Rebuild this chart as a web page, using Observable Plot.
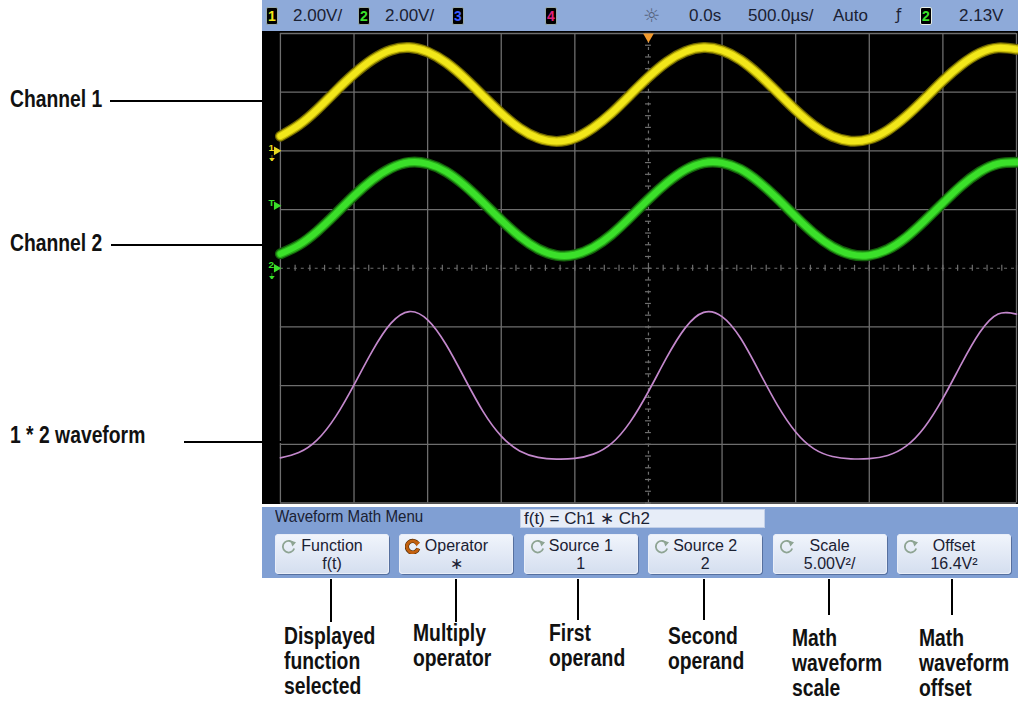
<!DOCTYPE html>
<html><head><meta charset="utf-8">
<script src="https://cdn.jsdelivr.net/npm/d3@7"></script>
<script src="https://cdn.jsdelivr.net/npm/@observablehq/plot@0.6"></script>
<style>
body{margin:0;background:#fff;}
#page{position:relative;width:1018px;height:702px;overflow:hidden;background:#fff;font-family:"Liberation Sans",Arial,sans-serif;}
.abs{position:absolute;}
#status{left:262px;top:0;width:756px;height:31px;background:#8eaad9;}
#scope{left:262px;top:31px;}
#menu{left:262px;top:507px;width:756px;height:71px;background:#809fd3;}
.st{position:absolute;top:0;line-height:31px;font-size:17px;color:#1a2133;white-space:nowrap;transform-origin:left center;}
.chbox{position:absolute;top:7px;width:10px;height:16px;background:#000;border:1px solid #9aa;border-radius:2px;font-size:14px;line-height:16px;text-align:center;font-weight:bold;font-family:"Liberation Sans",sans-serif;}
.key{position:absolute;top:27px;width:114px;height:40px;border-radius:4px;background:linear-gradient(#f1f5fc,#d4deef);box-shadow:1px 1px 0 #56709f, inset 0 0 0 1px #e9eef8;color:#1a2133;font-size:16px;}
.key .l1{position:absolute;left:0;right:0;top:3px;text-align:center;line-height:18px;}
.key .l2{position:absolute;left:0;right:0;top:21px;text-align:center;line-height:18px;}
.key svg{position:absolute;left:6px;top:4px;}
.note{position:absolute;font-weight:bold;font-size:23px;line-height:20px;color:#111;white-space:nowrap;transform:scaleX(0.84);transform-origin:left top;}
.lead{position:absolute;background:#000;}
</style></head><body><div id="page">
<div id="status" class="abs"></div>
<div id="scope" class="abs"></div>
<div id="menu" class="abs"></div>
</div>
<script>
// ---------------- data ----------------
const timeMs = [-2.5,-2.375,-2.25,-2.125,-2,-1.875,-1.75,-1.625,-1.5,-1.375,-1.25,-1.125,-1,-0.875,-0.75,-0.625,-0.5,-0.375,-0.25,-0.125,0,0.125,0.25,0.375,0.5,0.625,0.75,0.875,1,1.125,1.25,1.375,1.5,1.625,1.75,1.875,2,2.125,2.25,2.375,2.5];
const ch1Volts = [0.50,0.88,1.41,2.03,2.62,3.11,3.43,3.52,3.37,3.01,2.49,1.88,1.28,0.77,0.44,0.32,0.44,0.79,1.29,1.90,2.51,3.03,3.38,3.52,3.42,3.10,2.60,2.00,1.39,0.86,0.49,0.33,0.40,0.70,1.18,1.77,2.39,2.93,3.33,3.51,3.46];
const ch2Volts = [0.49,0.79,1.26,1.85,2.47,3.01,3.41,3.61,3.56,3.29,2.83,2.25,1.64,1.08,0.66,0.44,0.46,0.71,1.15,1.73,2.35,2.91,3.35,3.59,3.59,3.37,2.94,2.38,1.76,1.18,0.73,0.47,0.44,0.64,1.05,1.61,2.22,2.81,3.28,3.56,3.61];
const mathV2 = [0.25,0.70,1.78,3.76,6.47,9.36,11.70,12.71,12.00,9.90,7.05,4.23,2.10,0.83,0.29,0.14,0.20,0.56,1.48,3.29,5.90,8.82,11.32,12.64,12.28,10.45,7.64,4.76,2.45,1.01,0.36,0.16,0.18,0.45,1.24,2.85,5.31,8.23,10.92,12.50,12.49];

// scope settings (from the status line and softkeys)
const ch1VoltsPerDiv = 2.00, ch2VoltsPerDiv = 2.00;
const ch1GroundDiv = 2, ch2GroundDiv = 0;
const mathV2PerDiv = 5.00, mathOffsetV2 = 16.4;
const triggerLevelV = 2.13;
const gridTimesMs = [-2.5,-2,-1.5,-1,-0.5,0,0.5,1,1.5,2,2.5];
const gridDivs = [-4,-3,-2,-1,0,1,2,3,4];

// text
const statusTexts = ["2.00V/","2.00V/","0.0s","500.0µs/","Auto","2.13V"];
const menuTitle = "Waveform Math Menu";
const formulaText = "f(t) = Ch1 ∗ Ch2";
const softkeyNames = ["Function","Operator","Source 1","Source 2","Scale","Offset"];
const softkeyValues = ["f(t)","∗","1","2","5.00V²/","16.4V²"];
const sideLabels = ["Channel 1","Channel 2","1 * 2 waveform"];
const keyLabels = [["Displayed","function","selected"],["Multiply","operator"],["First","operand"],["Second","operand"],["Math","waveform","scale"],["Math","waveform","offset"]];

// ---------------- colours ----------------
const YEL = "#f2e71a", GRN = "#3be02a", BLU = "#3a5cff", MAG = "#e0207a", GRID = "#6e6e6e";

// ---------------- scope screen ----------------
const traces = timeMs.map((t, i) => ({
  t,
  ch1: ch1Volts[i] / ch1VoltsPerDiv + ch1GroundDiv,
  ch2: ch2Volts[i] / ch2VoltsPerDiv + ch2GroundDiv,
  math: (mathV2[i] - mathOffsetV2) / mathV2PerDiv
}));
const markers = [
  {label: "1", y: ch1GroundDiv, color: "#e8d820", gnd: true},
  {label: "T", y: triggerLevelV / ch2VoltsPerDiv + ch2GroundDiv, color: GRN, gnd: false},
  {label: "2", y: ch2GroundDiv, color: GRN, gnd: true}
];
const minorT = d3.range(-25, 26).map(i => i / 10);
const minorD = d3.range(-20, 21).map(i => i / 5);

const scope = Plot.plot({
  width: 760, height: 476,
  marginLeft: 18, marginRight: 2, marginTop: 2, marginBottom: 2,
  style: {background: "#000", overflow: "visible"},
  x: {domain: [-2.5, 2.5], axis: null},
  y: {domain: [-4, 4], axis: null},
  color: {type: "identity"},
  marks: [
    Plot.ruleX(gridTimesMs.filter(t => t !== 0), {stroke: GRID, strokeWidth: 1.3}),
    Plot.ruleY(gridDivs.filter(d => d !== 0), {stroke: GRID, strokeWidth: 1.3}),
    Plot.ruleX([0], {stroke: GRID, strokeWidth: 1.2, strokeDasharray: "3,4"}),
    Plot.ruleY([0], {stroke: GRID, strokeWidth: 1.2, strokeDasharray: "3,4"}),
    Plot.ruleX(minorT, {y1: -0.05, y2: 0.05, stroke: GRID, strokeWidth: 1.2}),
    Plot.ruleY(minorD, {x1: -0.02, x2: 0.02, stroke: GRID, strokeWidth: 1.2}),
    Plot.line(traces, {x: "t", y: "ch1", curve: "natural", stroke: "#6d6400", strokeWidth: 11}),
    Plot.line(traces, {x: "t", y: "ch1", curve: "natural", stroke: "#c9bd08", strokeWidth: 8.5}),
    Plot.line(traces, {x: "t", y: "ch1", curve: "natural", stroke: YEL, strokeWidth: 6}),
    Plot.line(traces, {x: "t", y: "ch2", curve: "natural", stroke: "#145f0c", strokeWidth: 11}),
    Plot.line(traces, {x: "t", y: "ch2", curve: "natural", stroke: "#28ad1a", strokeWidth: 8.5}),
    Plot.line(traces, {x: "t", y: "ch2", curve: "natural", stroke: GRN, strokeWidth: 6}),
    Plot.line(traces, {x: "t", y: "math", curve: "natural", stroke: "#c388cc", strokeWidth: 1.7}),
    Plot.text(markers, {frameAnchor: "left", y: "y", text: "label", fill: "color", dx: -12, dy: -3, fontSize: 10, fontWeight: "bold", fontFamily: "Liberation Sans"}),
    Plot.text(markers.filter(m => m.gnd), {frameAnchor: "left", y: "y", text: () => "⏚", fill: "color", dx: -11, dy: 8, fontSize: 8, fontFamily: "DejaVu Sans"}),
    Plot.dot(markers, {frameAnchor: "left", y: "y", fill: "color", symbol: "triangle", rotate: 90, r: 3.2, dx: -4}),
    Plot.dot([0], {x: d => d, frameAnchor: "top", fill: "#f29a2e", symbol: "triangle", rotate: 180, r: 4, dy: 3})
  ]
});
document.getElementById("scope").appendChild(scope);

// ---------------- status line ----------------
const status = document.getElementById("status");
function chBox(left, text, color, hl) {
  const b = document.createElement("div");
  b.className = "chbox"; b.style.left = left + "px"; b.style.color = color; b.textContent = text;
  if (hl) b.style.border = "1px solid #e8f0e8";
  status.appendChild(b);
}
function stText(left, text, extra) {
  const s = document.createElement("div");
  s.className = "st"; s.style.left = left + "px"; s.textContent = text;
  if (extra) Object.assign(s.style, extra);
  status.appendChild(s);
}
chBox(4, "1", YEL); stText(31, statusTexts[0]);
chBox(96, "2", GRN); stText(123, statusTexts[1]);
chBox(190, "3", BLU);
chBox(283, "4", MAG);
stText(381, "☼", {fontFamily: "DejaVu Sans", color: "#55627c", fontSize: "19px"});
stText(427, statusTexts[2]);
stText(486, statusTexts[3]);
stText(571, statusTexts[4]);
stText(634, "ƒ", {fontFamily: "DejaVu Sans", fontSize: "15px"});
chBox(658, "2", GRN, true);
stText(697, statusTexts[5]);

// ---------------- menu ----------------
const menu = document.getElementById("menu");
const title = document.createElement("div");
title.className = "st"; title.style.left = "13px"; title.style.top = "-3px"; title.style.lineHeight = "26px";
title.style.transform = "scaleX(0.89)";
title.textContent = menuTitle; menu.appendChild(title);
const fbox = document.createElement("div");
Object.assign(fbox.style, {position: "absolute", left: "258px", top: "2px", width: "245px", height: "19px", background: "#e7edf8", border: "1px solid #c2cfe8", fontSize: "17px", lineHeight: "18px", paddingLeft: "3px", boxSizing: "border-box", color: "#1a2133"});
fbox.textContent = formulaText; menu.appendChild(fbox);

function icon(active) {
  const c = active ? "#c2600f" : "#8ea493";
  const w = active ? 3 : 1.8;
  return `<svg width="16" height="16" viewBox="0 0 16 16">` +
    (active ? `<path d="M12.8 6 A5.8 5.8 0 1 0 13.2 10.5" fill="none" stroke="#4a2a08" stroke-width="4.2"/>` : "") +
    `<path d="M12.8 6 A5.8 5.8 0 1 0 13.2 10.5" fill="none" stroke="${c}" stroke-width="${w}"/>` +
    `<path d="M9.2 2.6 L15 4.2 L11.4 8.6 Z" fill="${c}"/></svg>`;
}
const keyLefts = softkeyNames.map((_, i) => 13 + i * 124.4);
softkeyNames.forEach((name, i) => {
  const k = document.createElement("div");
  k.className = "key"; k.style.left = keyLefts[i] + "px";
  k.innerHTML = icon(i === 1) + `<div class="l1">${name}</div><div class="l2">${softkeyValues[i]}</div>`;
  menu.appendChild(k);
});

// ---------------- annotations ----------------
const page = document.getElementById("page");
function add(cls, style, text) {
  const d = document.createElement("div");
  d.className = cls; Object.assign(d.style, style);
  if (text) d.textContent = text;
  page.appendChild(d);
}
// label line centres (page px); each line box is 20px tall
const sideCenters = [99, 243, 435];
const sideLines = [[110, 265, 100], [111, 265, 244], [184, 282, 441]];
sideLabels.forEach((t, i) => {
  add("note", {left: "10px", top: (sideCenters[i] - 10) + "px"}, t);
  const [x1, x2, y] = sideLines[i];
  add("lead", {left: x1 + "px", top: y + "px", width: (x2 - x1) + "px", height: "2px"});
});
const keyTextLeft = [284, 413, 549, 668, 792, 919];
const keyFirstCenter = [636, 633, 633, 636, 638, 638];
const keyLineGap = 25;
const keyLineX = [330, 455, 577, 703, 828, 951];
const keyLineEnd = [622, 622, 620, 620, 615, 615];
keyLabels.forEach((lines, i) => {
  lines.forEach((txt, j) => {
    add("note", {left: keyTextLeft[i] + "px", top: (keyFirstCenter[i] + j * keyLineGap - 10) + "px"}, txt);
  });
  add("lead", {left: keyLineX[i] + "px", top: "579px", width: "2px", height: (keyLineEnd[i] - 579) + "px"});
});
</script>
</body></html>
